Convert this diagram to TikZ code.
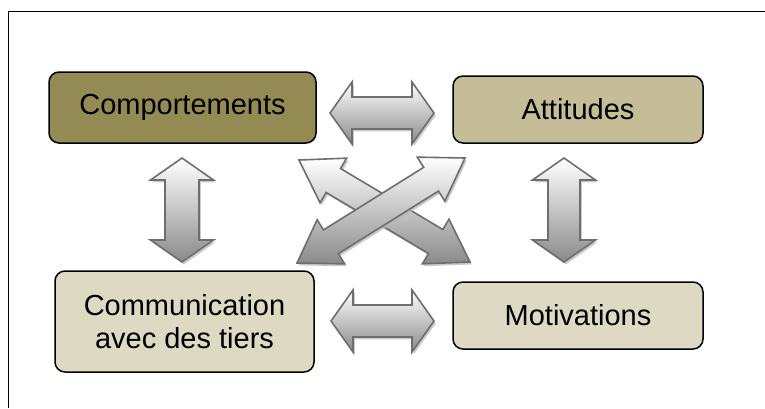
\documentclass[tikz,border=0pt]{standalone}
\usepackage{fontspec}
\setmainfont{Liberation Sans}
\usetikzlibrary{calc}
\definecolor{boxA}{HTML}{948A54}
\definecolor{boxB}{HTML}{C4BD97}
\definecolor{boxC}{HTML}{DDD9C3}
\definecolor{arrline}{HTML}{6E6E6E}
\definecolor{arrbot}{HTML}{8A8A8A}
\newcommand\ArrPts[5]{(#1) -- ($(#1)!#5!(#2)!#4!90:(#2)$) -- ($(#1)!#5!(#2)!#3!90:(#2)$) -- ($(#2)!#5!(#1)!#3!-90:(#1)$) -- ($(#2)!#5!(#1)!#4!-90:(#1)$) -- (#2) -- ($(#2)!#5!(#1)!#4!90:(#1)$) -- ($(#2)!#5!(#1)!#3!90:(#1)$) -- ($(#1)!#5!(#2)!#3!-90:(#2)$) -- ($(#1)!#5!(#2)!#4!-90:(#2)$) -- cycle}
\newcommand\BlockArrow[5]{%
  \fill[arrshadow] \ArrPts{#1}{#2}{#3}{#4}{#5};
  \path[arr] \ArrPts{#1}{#2}{#3}{#4}{#5};}
\begin{document}
\begin{tikzpicture}[x=1pt,y=-1pt,
  box/.style={draw=black, line width=1.5pt, rounded corners=10pt, inner sep=0pt,
    align=center, font=\fontsize{29}{33}\selectfont, text=black},
  arr/.style={draw=arrline, line width=1.6pt, line join=miter, top color=white, bottom color=arrbot},
  arrshadow/.style={fill=black!28, opacity=.75, transform canvas={shift={(1.8pt,-2.4pt)}}},
  frame/.style={draw=black, line width=1.9pt}]
\useasboundingbox (0,0) rectangle (765,408);
\draw[frame] (8.5,408) -- (8.5,11.5) -- (765,11.5);

\node[box, fill=boxA, minimum width=267pt, minimum height=71pt] (comp) at (182.5,107.5) {Comportements};
\node[box, fill=boxB, minimum width=250pt, minimum height=67pt] (att) at (578,109.5) {Attitudes};
\node[box, fill=boxC, minimum width=259pt, minimum height=101pt] (comm) at (184.5,321.5) {Communication\\avec des tiers};
\node[box, fill=boxC, minimum width=250pt, minimum height=67pt] (mot) at (578,315.5) {Motivations};

\coordinate (lvT) at (182,158);  \coordinate (lvB) at (182,262);
\coordinate (rvT) at (564,158);  \coordinate (rvB) at (564,262);
\coordinate (thL) at (330,113);  \coordinate (thR) at (434,113);
\coordinate (bhL) at (331,321);  \coordinate (bhR) at (434,321);
\coordinate (d1A) at (299,160);  \coordinate (d1B) at (470,262);
\coordinate (d2A) at (297,263);  \coordinate (d2B) at (465,158);

\BlockArrow{lvT}{lvB}{17pt}{31.5pt}{22pt}
\BlockArrow{rvT}{rvB}{16pt}{31.5pt}{22pt}
\BlockArrow{thL}{thR}{16pt}{31pt}{22pt}
\BlockArrow{bhL}{bhR}{16pt}{31pt}{22pt}
\BlockArrow{d1A}{d1B}{14pt}{26pt}{40pt}
\BlockArrow{d2A}{d2B}{14pt}{26pt}{40pt}
\end{tikzpicture}
\end{document}
